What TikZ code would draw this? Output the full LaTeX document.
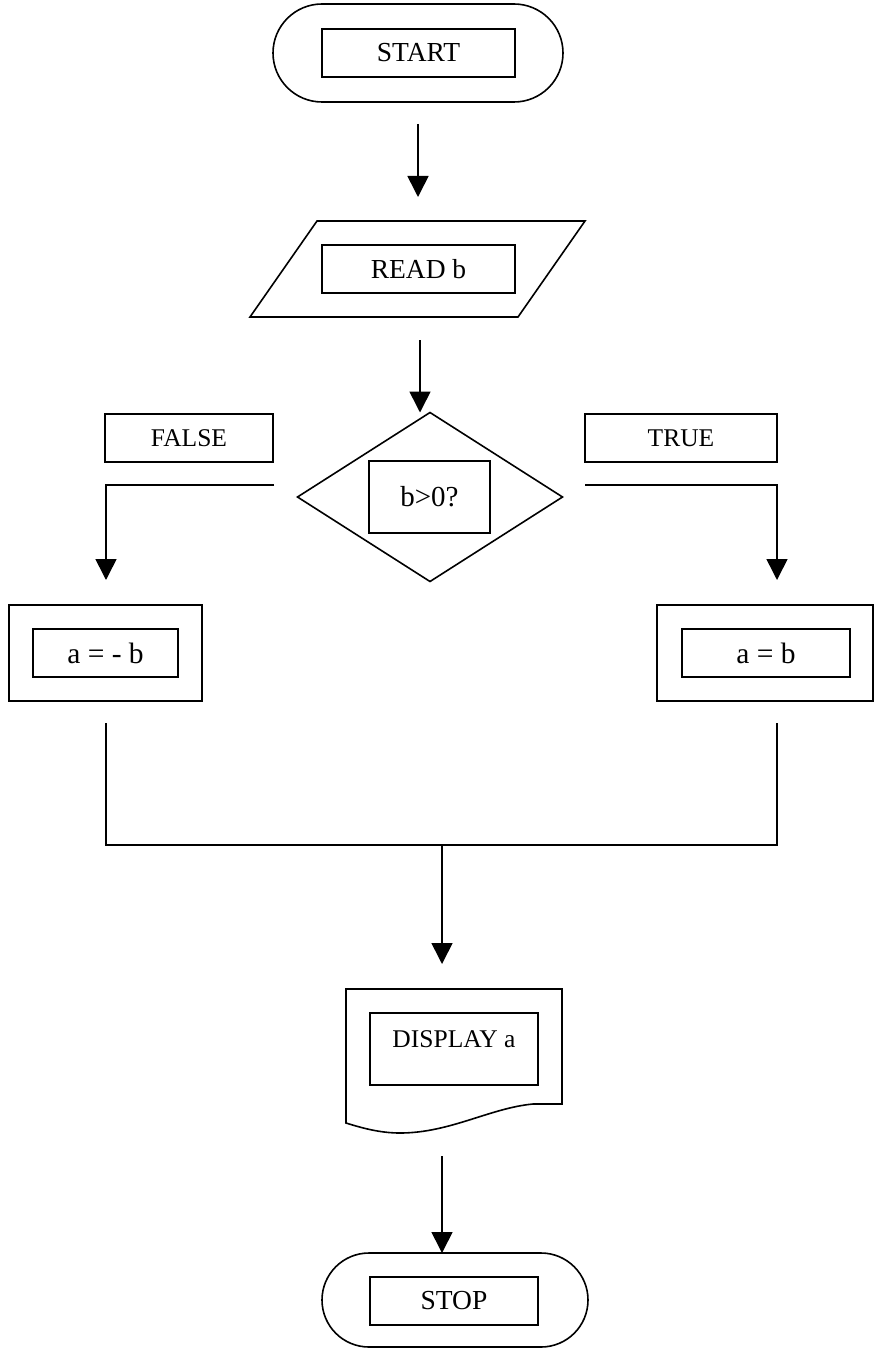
\documentclass[tikz,border=0pt]{standalone}
\usepackage{fontspec}
\setmainfont{Liberation Serif}
\usetikzlibrary{arrows.meta,shapes.geometric}
\begin{document}
\begin{tikzpicture}[x=1pt,y=-1pt,
  every node/.style={inner sep=0pt, outer sep=0pt},
  ln/.style={line width=1.6pt, line join=miter},
  box/.style={draw, ln, rectangle, font=\fontsize{27.5}{31}\selectfont},
  term/.style={draw, ln, rectangle, rounded corners=#1},
  dia/.style={draw, ln, diamond},
  arr/.style={ln, -{Triangle[width=21pt,length=21pt]}},
  conn/.style={ln}]
\useasboundingbox (0,0) rectangle (875,1348);
% START
\node[term=49pt, minimum width=290pt, minimum height=98pt] (startout) at (418,53) {};
\node[box, minimum width=193pt, minimum height=48pt] (start) at (418.5,53) {START};
% READ b
\draw[ln] (317,221) -- (585,221) -- (518,317) -- (250,317) -- cycle;
\coordinate (readtop) at (418,221);
\node[box, minimum width=193pt, minimum height=48pt] (read) at (418.5,269) {READ b};
% decision
\node[dia, minimum width=265pt, minimum height=169pt] (dec) at (430,497) {};
\node[box, minimum width=121pt, minimum height=72pt, font=\fontsize{29}{33}\selectfont] (cond) at (429.5,497) {b>0?};
\node[box, minimum width=168pt, minimum height=48pt, font=\fontsize{25.5}{29}\selectfont] (false) at (189,438) {FALSE};
\node[box, minimum width=192pt, minimum height=48pt, font=\fontsize{25.5}{29}\selectfont] (true) at (681,438) {TRUE};
% processes
\node[draw, ln, minimum width=193pt, minimum height=96pt] (lout) at (105.5,653) {};
\node[box, minimum width=145pt, minimum height=48pt, font=\fontsize{29.5}{33}\selectfont] (lin) at (105.5,653) {a = - b};
\node[draw, ln, minimum width=216pt, minimum height=96pt] (rout) at (765,653) {};
\node[box, minimum width=168pt, minimum height=48pt, font=\fontsize{29.5}{33}\selectfont] (rin) at (766,653) {a = b};
% document
\draw[ln] (346,989) -- (562,989) -- (562,1104) -- (533,1104)
  .. controls (490,1108) and (450,1133) .. (400,1133)
  .. controls (380,1133) and (362,1128) .. (346,1123) -- cycle;
\coordinate (doctop) at (442,989);
\coordinate (docbot) at (442,1156);
\node[draw, ln, minimum width=168pt, minimum height=72pt] (disp) at (454,1049) {};
\node[font=\fontsize{25.5}{29}\selectfont] (disptext) at (454,1039) {DISPLAY a};
% STOP
\node[term=47pt, minimum width=266pt, minimum height=94pt] (stopout) at (455,1300) {};
\node[box, minimum width=168pt, minimum height=48pt] (stop) at (454,1301) {STOP};
% connectors
\coordinate (a1s) at (418,124);
\draw[arr] (a1s) -- ([yshift=24pt]readtop);
\coordinate (a2s) at (420,340);
\draw[arr] (a2s) -- (a2s |- dec.north);
\coordinate (fs) at (274,485);
\coordinate (fe) at (106,580);
\draw[arr] (fs) -| (fe);
\coordinate (ts) at (585,485);
\coordinate (te) at (777,580);
\draw[arr] (ts) -| (te);
\coordinate (ls) at (106,723);
\coordinate (rs) at (777,723);
\coordinate (mid) at (442,845);
\draw[conn] (ls) |- (mid) -| (rs);
\draw[arr] (mid) -- ([yshift=25pt]doctop);
\draw[arr] (docbot) -- (docbot |- stopout.north);
\end{tikzpicture}
\end{document}
